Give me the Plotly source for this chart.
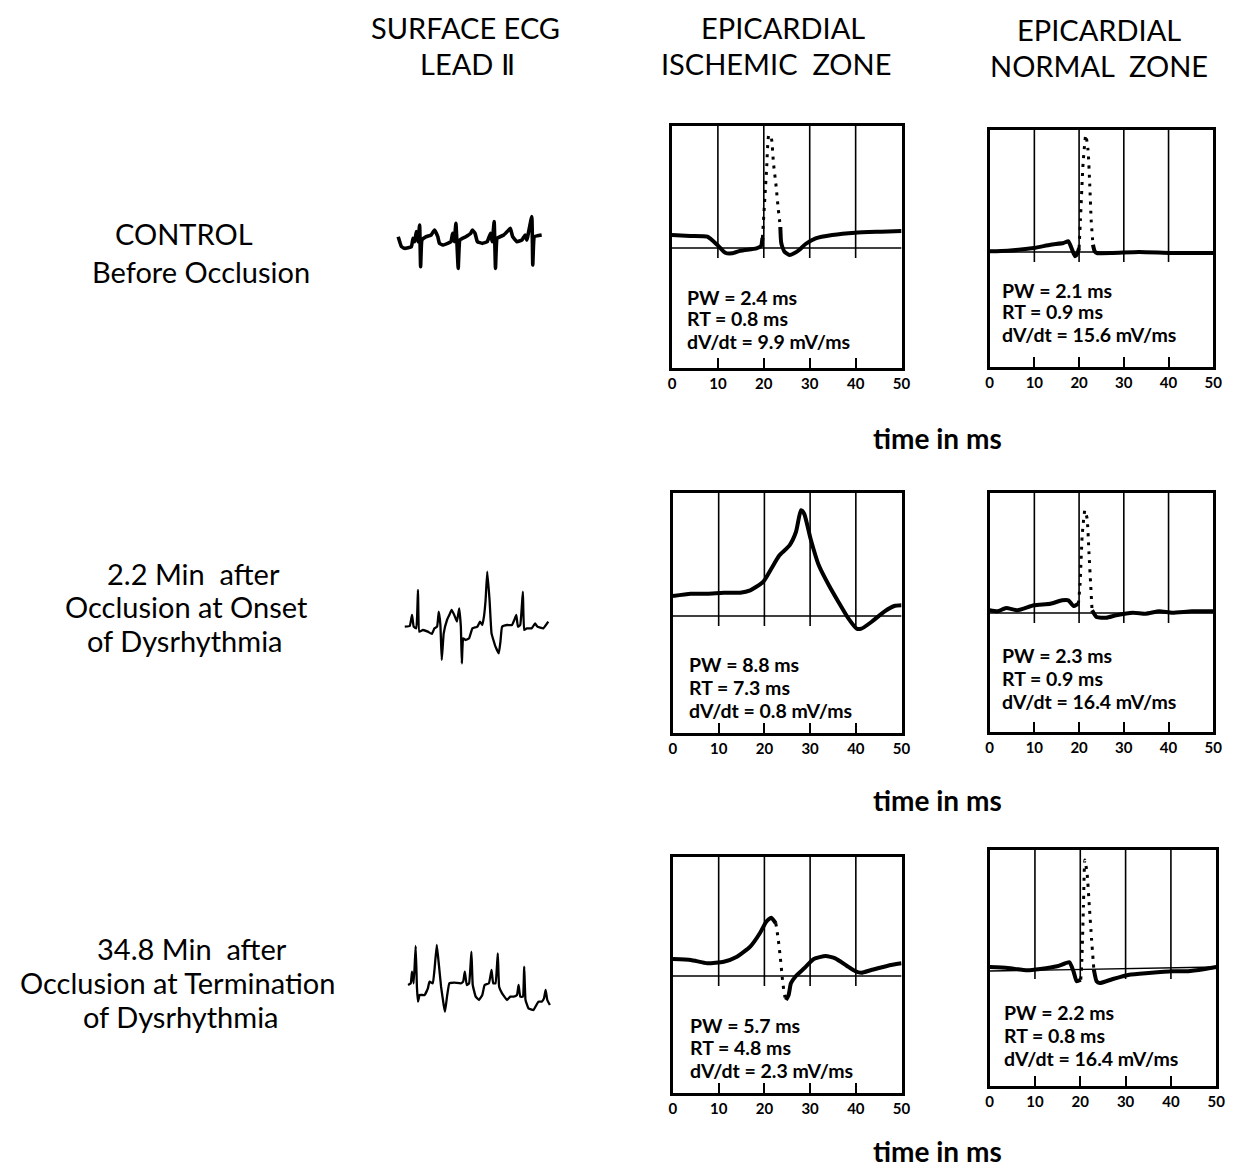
import plotly.graph_objects as go

W, H = 1248, 1170

# ---------------- data ----------------
TICKS = [0, 10, 20, 30, 40, 50]
TICK_TEXT = ["0", "10", "20", "30", "40", "50"]
GRID_MS = [10, 20, 30, 40]

COL_HEAD_ECG = ["SURFACE ECG", "LEAD Ⅱ"]
COL_HEAD_ISCH = ["EPICARDIAL", "ISCHEMIC\u00a0\u00a0ZONE"]
COL_HEAD_NORM = ["EPICARDIAL", "NORMAL\u00a0\u00a0ZONE"]
ROW1_LABEL = ["CONTROL", "Before Occlusion"]
ROW2_LABEL = ["2.2 Min\u00a0\u00a0after", "Occlusion at Onset", "of Dysrhythmia"]
ROW3_LABEL = ["34.8 Min\u00a0\u00a0after", "Occlusion at Termination", "of Dysrhythmia"]
X_LABEL = "time in ms"

# epicardial electrograms: time (ms), potential (arbitrary units, baseline = 0)
isch_ctrl_t = [0, 4, 7.7, 9.9, 11.6, 13.1, 14.9, 18.4, 19.4, 19.7, 20.6, 21.1, 21.6, 22.1, 22.7, 23.1, 23.6,
               23.8, 24.5, 25.6, 26.6, 27.7, 29.1, 31.3, 34.9, 39.9, 45.6, 50]
isch_ctrl_v = [1.3, 1.2, 1.13, 0.3, -0.47, -0.53, -0.27, -0.03, 0.2, 1.0, 7.8, 11.3, 11.1, 8.5, 6.1, 4.1, 2.1,
               0.5, -0.37, -0.7, -0.53, -0.2, 0.4, 0.97, 1.3, 1.53, 1.63, 1.7]
isch_ctrl_fast = (19.7, 23.6)

norm_ctrl_t = [0, 4, 9.9, 13.6, 16.5, 17.6, 18.3, 19.1, 19.6, 20.0, 20.3, 20.9, 21.5, 22.0, 22.4, 22.7, 23.1,
               23.5, 24, 27.5, 33.4, 40.7, 50]
norm_ctrl_v = [0.07, 0.13, 0.4, 0.73, 0.9, 1.07, 0.4, -0.43, -0.17, 0.4, 3.2, 8.9, 11.7, 10.2, 6.6, 3.2, 0.73,
               0.07, -0.1, -0.1, 0.0, -0.1, -0.1]
norm_ctrl_fast = (20.0, 23.1)

isch_onset_t = [0, 3.9, 7.5, 11.1, 14.7, 16.9, 19.7, 21.5, 23.3, 25.5, 26.9, 28.0, 28.7, 30.1, 31.9, 34.1,
                36.2, 38.4, 40.2, 41.2, 43.4, 46.3, 48.4, 50]
isch_onset_v = [2.0, 2.23, 2.23, 2.33, 2.33, 2.57, 3.4, 4.73, 6.07, 7.07, 8.4, 10.57, 10.23, 7.73, 5.07, 3.07,
                1.4, -0.27, -1.27, -1.27, -0.6, 0.47, 1.0, 1.07]
isch_onset_fast = None

norm_onset_t = [0, 1.8, 3.7, 6.25, 9.9, 13.6, 16.2, 17.6, 18.75, 19.85, 20.2, 20.7, 21.3, 21.8, 22.2, 22.6,
                22.9, 23.9, 26.1, 28.3, 32.0, 34.9, 37.9, 40.8, 45.2, 50]
norm_onset_v = [0.27, 0.17, 0.5, 0.27, 0.77, 0.93, 1.27, 1.27, 0.7, 0.93, 2.77, 7.77, 10.27, 9.43, 6.1, 2.77,
                0.27, -0.4, -0.47, -0.23, 0.03, -0.07, 0.17, 0.03, 0.17, 0.17]
norm_onset_fast = (19.85, 22.9)

isch_term_t = [0, 3.9, 7.5, 11.1, 14.0, 16.9, 19.0, 20.4, 21.5, 22.5, 23.0, 23.5, 24.0, 24.4, 24.7, 25.3,
               25.8, 26.9, 28.7, 30.8, 33.4, 35.5, 38.0, 39.8, 41.2, 43.4, 47.0, 50]
isch_term_v = [1.7, 1.6, 1.27, 1.43, 1.93, 2.93, 4.27, 5.43, 5.83, 5.27, 3.77, 1.77, -0.57, -1.9, -2.4, -1.9,
               -0.73, 0.0, 0.77, 1.7, 2.0, 1.77, 1.03, 0.5, 0.33, 0.6, 1.03, 1.27]
isch_term_fast = (22.5, 24.7)

norm_term_t = [0, 4, 8.3, 11.2, 14.9, 17.6, 18.5, 19.2, 20.1, 20.3, 20.7, 21.0, 21.5, 22.0, 22.5, 23.0, 23.6,
               24.3, 27.2, 30.8, 35.1, 40.2, 43.8, 47.5, 50]
norm_term_v = [0.2, 0.1, -0.13, 0.0, 0.27, 0.67, -0.23, -1.23, -1.07, 0.27, 6.27, 10.9, 9.6, 6.27, 2.93, -0.07,
               -1.23, -1.4, -1.0, -0.57, -0.4, -0.23, -0.23, 0.0, 0.2]
norm_term_fast = (20.1, 23.0)

PW = ["2.4", "2.1", "8.8", "2.3", "5.7", "2.2"]
RT = ["0.8", "0.9", "7.3", "0.9", "4.8", "0.8"]
DVDT = ["9.9", "15.6", "0.8", "16.4", "2.3", "16.4"]

# surface ECG lead II strips: sample index, amplitude (arbitrary units)
ecg1_t = [25, 35, 45, 65, 70, 75, 80, 85, 90, 93, 97, 110, 125, 135, 145, 150, 160, 175, 185, 190, 195, 200, 207,
          212, 230, 245, 250, 258, 265, 280, 295, 305, 310, 316, 320, 325, 345, 360, 365, 372, 385, 400, 410, 415,
          430, 433, 438, 460]
ecg1_v = [10, -20, -25, -20, 5, -5, 25, -5, 45, -80, 0, 10, 15, 30, 10, -10, -15, -10, -5, 20, -5, 50, -85,
          0, 10, 20, 30, 20, -5, -10, -5, 20, -5, 55, -85, 5, 15, 30, 35, 10, -5, 0, 15, 0,
          70, -75, 10, 15]

ecg2_t = [30, 45, 52, 57, 65, 70, 74, 85, 100, 112, 120, 128, 133, 138, 142, 148, 158, 165, 172, 180, 188, 195,
          200, 203, 207, 215, 225, 235, 250, 258, 265, 270, 275, 280, 287, 293, 305, 315, 320, 325, 340, 355, 362,
          368, 373, 380, 388, 392, 400, 415, 425, 432, 450, 465]
ecg2_v = [0, 2, 35, 0, -5, 110, -15, -10, -15, -22, -5, 0, 45, 5, -100, -20, 20, 35, 50, 35, 15, 55,
          0, -110, -35, -40, -35, -5, 0, 15, 5, 30, 80, 165, 80, -20, -60, -80, -45, 0, 5, 5, 20,
          35, 0, 5, 105, -10, -5, -5, 10, 0, -5, 15]

ecg3_t = [40, 48, 52, 57, 63, 67, 70, 75, 90, 100, 105, 115, 120, 127, 133, 140, 148, 152, 158, 165, 180, 200,
          207, 212, 218, 225, 232, 236, 245, 255, 265, 272, 285, 293, 298, 305, 312, 316, 325, 340, 350, 360, 370,
          375, 380, 388, 392, 396, 405, 420, 435, 445, 452, 457, 462, 470]
ecg3_v = [0, 5, 40, 5, 117, -10, -50, -30, -30, -10, 10, 5, 45, 120, 65, -5, -60, -80, -35, 5, 7, 5,
          10, 40, 0, 5, 100, 0, -35, -45, -30, 0, 5, 45, 5, 5, 95, -5, -25, -45, -35, -35, -30,
          0, -35, -35, 55, -45, -70, -75, -50, -50, -40, -15, -45, -60]

# ---------------- layout geometry (pixels) ----------------
panels = [
    dict(t=isch_ctrl_t, v=isch_ctrl_v, fast=isch_ctrl_fast, box=(675, 907, 126, 368), base=248, bl=(0, 0)),
    dict(t=norm_ctrl_t, v=norm_ctrl_v, fast=norm_ctrl_fast, box=(996, 1222, 130, 367), base=252, bl=(0, 0)),
    dict(t=isch_onset_t, v=isch_onset_v, fast=isch_onset_fast, box=(676, 907, 493, 733), base=616, bl=(0, 0)),
    dict(t=norm_onset_t, v=norm_onset_v, fast=norm_onset_fast, box=(996, 1222, 493, 732), base=613, bl=(0, 0)),
    dict(t=isch_term_t, v=isch_term_v, fast=isch_term_fast, box=(676, 907, 857, 1093), base=976, bl=(0, 0)),
    dict(t=norm_term_t, v=norm_term_v, fast=norm_term_fast, box=(996, 1225, 850, 1086), base=969, bl=(-0.2, 0.2)),
]
text_pos = [(688, 297, 22), (1006, 290, 22), (690, 664, 23), (1006, 655, 23), (691, 1025, 22.5), (1008, 1012, 23)]

ecgs = [
    dict(t=ecg1_t, v=ecg1_v, box=(390, 560, 200, 280), xr=(0, 510), yr=(-120, 120), w=3.6),
    dict(t=ecg2_t, v=ecg2_v, box=(395, 560, 560, 670), xr=(0, 495), yr=(-130, 200), w=2.3),
    dict(t=ecg3_t, v=ecg3_v, box=(395, 560, 930, 1020), xr=(0, 495), yr=(-105, 165), w=2.3),
]

FONT = "Lato"


def xdom(x0, x1):
    return [x0 / W, x1 / W]


def ydom(y0, y1):
    return [1 - y1 / H, 1 - y0 / H]


fig = go.Figure()
layout = dict(width=W, height=H, margin=dict(l=0, r=0, t=0, b=0), paper_bgcolor="white",
              plot_bgcolor="white", showlegend=False, shapes=[], annotations=[])

for i, p in enumerate(panels, start=1):
    xa = "x" if i == 1 else f"x{i}"
    ya = "y" if i == 1 else f"y{i}"
    x0, x1, y0, y1 = p["box"]
    ymax = (p["base"] - y0) / 10.0
    ymin = -(y1 - p["base"]) / 10.0
    layout[f"xaxis{i}"] = dict(domain=xdom(x0, x1), range=[0, 50], anchor=ya, showline=True, linewidth=2.6,
                               linecolor="black", mirror=True, ticks="inside", ticklen=10, tickwidth=2,
                               tickcolor="black", tickvals=TICKS, ticktext=TICK_TEXT, showgrid=False,
                               zeroline=False, fixedrange=True,
                               tickfont=dict(family=FONT, size=15, color="black", weight="bold"))
    layout[f"yaxis{i}"] = dict(domain=ydom(y0, y1), range=[ymin, ymax], anchor=xa, showline=True, linewidth=2.6,
                               linecolor="black", mirror=True, ticks="", showticklabels=False, showgrid=False,
                               zeroline=False, fixedrange=True)
    # vertical grid lines (from top to just below baseline)
    for g in GRID_MS:
        layout["shapes"].append(dict(type="line", xref=xa, yref=ya, x0=g, x1=g, y0=-1.0, y1=ymax,
                                     line=dict(color="black", width=1.6), layer="below"))
    # baseline
    layout["shapes"].append(dict(type="line", xref=xa, yref=ya, x0=0, x1=50, y0=p["bl"][0], y1=p["bl"][1],
                                 line=dict(color="black", width=1.3), layer="below"))
    t, v, fast = p["t"], p["v"], p["fast"]
    if fast is None:
        fig.add_trace(go.Scatter(x=t, y=v, mode="lines", xaxis=xa, yaxis=ya,
                                 line=dict(color="black", width=4, shape="spline", smoothing=0.6)))
    else:
        fs, fe = fast
        st, sv, dt, dv = [], [], [], []
        for a, b in zip(t, v):
            if a <= fs:
                st.append(a); sv.append(b)
        st.append(None); sv.append(None)
        for a, b in zip(t, v):
            if a >= fe:
                st.append(a); sv.append(b)
            if fs <= a <= fe:
                dt.append(a); dv.append(b)
        fig.add_trace(go.Scatter(x=st, y=sv, mode="lines", xaxis=xa, yaxis=ya, connectgaps=False,
                                 line=dict(color="black", width=4, shape="spline", smoothing=0.5)))
        fig.add_trace(go.Scatter(x=dt, y=dv, mode="lines", xaxis=xa, yaxis=ya,
                                 line=dict(color="black", width=3, dash="3px,6px", shape="spline", smoothing=0.5)))
    tx, ty, dy = text_pos[i - 1]
    lines = [f"PW = {PW[i-1]} ms", f"RT = {RT[i-1]} ms", f"dV/dt = {DVDT[i-1]} mV/ms"]
    for k, s in enumerate(lines):
        layout["annotations"].append(dict(text=s, xref="paper", yref="paper", x=tx / W, y=1 - (ty + k * dy) / H,
                                          xanchor="left", yanchor="middle", showarrow=False,
                                          font=dict(family=FONT, size=19.5, color="black", weight="bold")))

for j, e in enumerate(ecgs, start=7):
    x0, x1, y0, y1 = e["box"]
    layout[f"xaxis{j}"] = dict(domain=xdom(x0, x1), range=list(e["xr"]), anchor=f"y{j}", visible=False,
                               fixedrange=True)
    layout[f"yaxis{j}"] = dict(domain=ydom(y0, y1), range=list(e["yr"]), anchor=f"x{j}", visible=False,
                               fixedrange=True)
    fig.add_trace(go.Scatter(x=e["t"], y=e["v"], mode="lines", xaxis=f"x{j}", yaxis=f"y{j}",
                             line=dict(color="black", width=e["w"], shape="spline", smoothing=0.3)))


def label(text, cx, cy, size, weight="normal"):
    layout["annotations"].append(dict(text=text, xref="paper", yref="paper", x=cx / W, y=1 - cy / H,
                                      xanchor="center", yanchor="middle", showarrow=False,
                                      font=dict(family=FONT, size=size, color="black", weight=weight)))


# column headers
label(COL_HEAD_ECG[0], 466, 27, 29)
label(COL_HEAD_ECG[1], 468, 63, 29)
label(COL_HEAD_ISCH[0], 787, 27, 29)
label(COL_HEAD_ISCH[1], 780, 63, 29)
label(COL_HEAD_NORM[0], 1107, 29, 29)
label(COL_HEAD_NORM[1], 1107, 65, 29)

# row labels
label(ROW1_LABEL[0], 182, 234, 29)
label(ROW1_LABEL[1], 199, 271, 29)
label(ROW2_LABEL[0], 191, 573, 29)
label(ROW2_LABEL[1], 184, 606, 29)
label(ROW2_LABEL[2], 183, 640, 29)
label(ROW3_LABEL[0], 190, 948, 29)
label(ROW3_LABEL[1], 175, 982, 29)
label(ROW3_LABEL[2], 179, 1016, 29)

# x-axis captions
label(X_LABEL, 943, 438, 28, "bold")
label(X_LABEL, 943, 800, 28, "bold")
label(X_LABEL, 943, 1151, 28, "bold")

fig.update_layout(**layout)
fig.write_html("out.html")
